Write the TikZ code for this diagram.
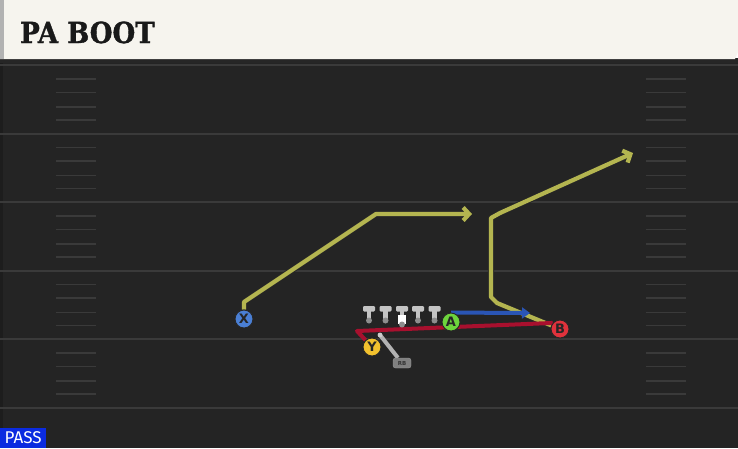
\documentclass[tikz,border=0pt]{standalone}
\usepackage{fontspec}
\usetikzlibrary{arrows.meta}
\newfontfamily\titlefont[FakeStretch=0.9,FakeBold=1.2]{DejaVu Serif}
\newfontfamily\playerfont{DejaVu Sans}
\newfontfamily\passfont{Fira Sans}
\definecolor{fieldbg}{HTML}{242424}
\definecolor{lineclr}{HTML}{3A3A3A}
\definecolor{titlebg}{HTML}{F6F4EE}
\definecolor{routeyellow}{HTML}{B4B550}
\definecolor{routeblue}{HTML}{2A55B5}
\definecolor{routered}{HTML}{A8102E}
\definecolor{xblue}{HTML}{4A7FD4}
\definecolor{agreen}{HTML}{6DD43C}
\definecolor{bred}{HTML}{E0323C}
\definecolor{yyellow}{HTML}{F2C12E}
\definecolor{passblue}{HTML}{0B2BE0}
\definecolor{tgrey}{HTML}{C4C4C4}
\definecolor{ballgrey}{HTML}{8E8E8E}
\pgfdeclarelayer{field}
\pgfdeclarelayer{routes}
\pgfsetlayers{field,routes,main}
\begin{document}
\begin{tikzpicture}[x=1pt,y=-1pt,
  player/.style={circle,draw=black!85,line width=0.9pt,minimum size=18pt,inner sep=0pt,
    font=\playerfont\bfseries\fontsize{13}{13}\selectfont,text=black!85},
  yroute/.style={draw=routeyellow,line width=4.2pt,line join=round,
    -{Straight Barb[length=6pt,width=13pt]},preaction={draw=black!85,line width=6.2pt}},
  broute/.style={draw=routeblue,line width=4pt,-{Triangle[length=8pt,width=11pt]}},
  rroute/.style={draw=routered,line width=4pt,line join=round},
  rbline/.style={draw=black!30,line width=4pt},
  rbtag/.style={draw=black!40,fill=black!50,rounded corners=2.5pt,minimum width=18pt,minimum height=10pt,
    inner sep=0pt,font=\playerfont\bfseries\fontsize{5.5}{5.5}\selectfont,text=black!80},
  lineman/.pic={
    \fill[tgrey,rounded corners=1.2pt] (-6,0) rectangle (6,5.5);
    \fill[tgrey] (-2.4,4) rectangle (2.4,14);
    \fill[ballgrey] (0,14.5) circle (3);
  },
  snapper/.pic={
    \fill[tgrey,rounded corners=1.2pt] (-6,0) rectangle (6,5.5);
    \fill[tgrey] (-2.4,4) rectangle (2.4,9);
    \fill[white] (-4,8.5) rectangle (4,18);
    \fill[ballgrey] (0,18.5) circle (3);
  }]
  \useasboundingbox (0,0) rectangle (738,448);

  %field
  \begin{pgfonlayer}{field}
    \fill[fieldbg] (0,60) rectangle (738,448);
    \fill[black!20!fieldbg] (0,60) rectangle (2.5,448);
    \foreach \yl in {65,133.5,202,270.5,339,407.5}
      \draw[lineclr,line width=2pt] (0,\yl) -- (738,\yl);
    \foreach \yl in {65,133.5,202,270.5,339}
      \foreach \hy in {14,27.5,42,55}{
        \draw[lineclr,line width=1.6pt] (56,\yl+\hy) -- (96,\yl+\hy);
        \draw[lineclr,line width=1.6pt] (646,\yl+\hy) -- (686,\yl+\hy);
      }
    %title bar
    \fill[black!85] (0,58) rectangle (738,63);
    \fill[titlebg] (0,0) -- (738,0) -- (738,52) -- (735,59) -- (0,59) -- cycle;
    \fill[black!30] (0,0) rectangle (4,59);
  \end{pgfonlayer}

  \node[anchor=base west,inner sep=0pt,font=\titlefont\bfseries\fontsize{29}{29}\selectfont,text=black!90] (title) at (20,43) {PA BOOT};
  \node[anchor=south west,fill=passblue,minimum width=46pt,minimum height=20pt,inner sep=0pt,
    font=\passfont\fontsize{17}{17}\selectfont,text=white] (pass) at (0,448) {PASS};

  %line
  \pic (LT) at (369,306) {lineman};
  \pic (LG) at (385.5,306) {lineman};
  \pic (C) at (402,306) {snapper};
  \pic (RG) at (418,306) {lineman};
  \pic (RT) at (434.5,306) {lineman};

  %players
  \node[player,fill=xblue] (X) at (244,319) {X};
  \node[player,fill=agreen] (A) at (451,322) {A};
  \node[player,fill=bred] (B) at (560,329) {B};
  \node[player,fill=yyellow] (Y) at (372,347) {Y};
  \node[rbtag] (RB) at (402,363) {RB};

  \coordinate (xend) at (472,214);
  \coordinate (aend) at (530,313);
  \coordinate (bend) at (633,153);
  \coordinate (rbtip) at (380,335);

  %routes
  \begin{pgfonlayer}{routes}
    \draw[yroute] (X.north) -- (244,302) -- (376,214) -- (xend);
    \draw[yroute] (B) -- (497,303) -- (491,297) -- (491,218) -- (500,213) -- (bend);
    \draw[rroute] (Y) -- (357,331) -- (B.140);
    \draw[broute] (A.north) -- (aend);
    \draw[rbline] (RB) -- (rbtip);
    \fill[black!20] (rbtip) circle (2.4);
  \end{pgfonlayer}
\end{tikzpicture}
\end{document}
